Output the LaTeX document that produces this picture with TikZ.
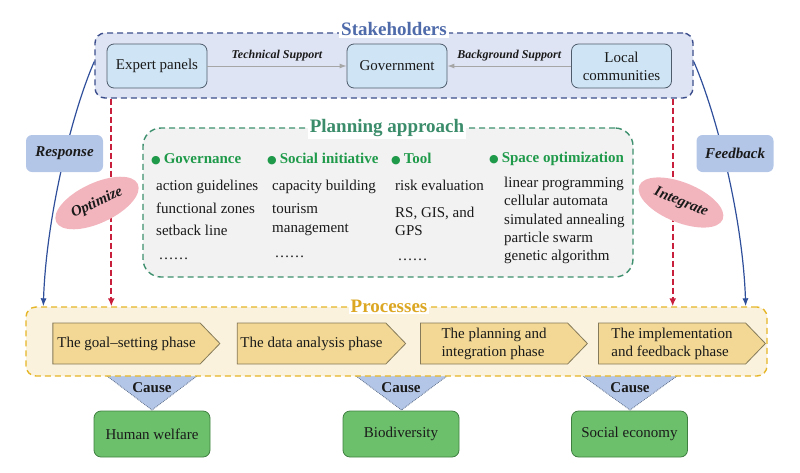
\documentclass[tikz,border=0pt]{standalone}
\usepackage{fontspec}
\setmainfont{Liberation Serif}
\newfontfamily\dotfont{DejaVu Sans}
\usetikzlibrary{arrows.meta, shapes.symbols, shapes.geometric, positioning}

\definecolor{ink}{HTML}{1A1A1A}
\definecolor{stakefill}{HTML}{DFE4F4}
\definecolor{stakeedge}{HTML}{3C4F8C}
\definecolor{staketitle}{HTML}{4F6BAA}
\definecolor{cellfill}{HTML}{CFE5F5}
\definecolor{celledge}{HTML}{4D5B6B}
\definecolor{reactfill}{HTML}{B4C6E7}
\definecolor{curveblue}{HTML}{2F4F9B}
\definecolor{optred}{HTML}{C8203C}
\definecolor{ovalfill}{HTML}{F2B5BE}
\definecolor{planfill}{HTML}{F2F2F2}
\definecolor{planedge}{HTML}{3D8F6E}
\definecolor{plantitle}{HTML}{3A8C6A}
\definecolor{headgreen}{HTML}{1F9A4A}
\definecolor{procfill}{HTML}{FBF2DD}
\definecolor{procedge}{HTML}{E5B627}
\definecolor{proctitle}{HTML}{DCA723}
\definecolor{phasefill}{HTML}{F2D894}
\definecolor{phaseedge}{HTML}{857A5A}
\definecolor{causeedge}{HTML}{5A6B86}
\definecolor{resultfill}{HTML}{6CC06C}
\definecolor{resultedge}{HTML}{3F7F40}

\newcommand{\headdot}{{\dotfont\fontsize{11}{11}\selectfont ●}\hspace{3pt}}

\tikzset{
  group box/.style={
    rounded corners=10pt,
    draw,
    line width=1.4pt,
    dash pattern=on 6pt off 4pt,
  },
  box title/.style={
    fill=white,
    inner sep=2pt,
    font=\fontsize{19}{21}\selectfont\bfseries,
  },
  stake node/.style={
    rounded corners=7pt,
    draw=celledge,
    fill=cellfill,
    line width=0.8pt,
    minimum width=100pt,
    minimum height=44pt,
    align=center,
  },
  support label/.style={
    above=1pt,
    midway,
    font=\fontsize{12}{14}\selectfont\bfseries\itshape,
  },
  react node/.style={
    rounded corners=6pt,
    fill=reactfill,
    minimum width=77pt,
    minimum height=37pt,
    font=\fontsize{15}{18}\selectfont\bfseries\itshape,
  },
  oval node/.style={
    ellipse,
    fill=ovalfill,
    minimum width=90pt,
    minimum height=40pt,
    inner sep=0pt,
    font=\fontsize{15}{18}\selectfont\bfseries\itshape,
  },
  head node/.style={
    anchor=west,
    inner sep=0pt,
    text=headgreen,
    font=\fontsize{15}{18}\selectfont\bfseries,
  },
  item node/.style={
    anchor=north west,
    inner sep=0pt,
    align=left,
  },
  phase node/.style={
    signal,
    signal to=east,
    signal pointer angle=92,
    draw=phaseedge,
    fill=phasefill,
    line width=0.8pt,
    minimum width=167pt,
    minimum height=41pt,
    align=left,
  },
  result node/.style={
    rounded corners=7pt,
    draw=resultedge,
    fill=resultfill,
    line width=0.8pt,
    minimum width=116pt,
    minimum height=46pt,
  },
  cause edge/.style={draw=causeedge, densely dotted, line width=0.8pt},
  cause label/.style={inner sep=0pt, font=\fontsize{15}{18}\selectfont\bfseries},
  support arrow/.style={draw=black!35, line width=1pt, -{Latex[length=7pt, width=5pt]}},
  loop arrow/.style={draw=curveblue, line width=1.2pt, -{Latex[length=8pt, width=6pt]}},
  push arrow/.style={draw=optred, line width=2pt, dash pattern=on 6pt off 3pt, -{Latex[length=8pt, width=7pt]}},
}

\begin{document}
\begin{tikzpicture}[x=1pt, y=-1pt, font=\fontsize{15}{18}\selectfont, text=ink]
  \useasboundingbox (0,0) rectangle (800,472);

  % cause wedges under the processes
  \fill[reactfill] (107,376) -- (197,376) -- (152,410) -- cycle;
  \fill[reactfill] (356,376) -- (447,376) -- (401.5,410) -- cycle;
  \fill[reactfill] (583,376) -- (677,376) -- (630,410) -- cycle;
  \draw[cause edge] (107,376) -- (152,410) -- (197,376);
  \draw[cause edge] (356,376) -- (401.5,410) -- (447,376);
  \draw[cause edge] (583,376) -- (630,410) -- (677,376);

  % stakeholders
  \node[group box, draw=stakeedge, fill=stakefill, minimum width=598pt, minimum height=65pt] (stake) at (394,65.5) {};
  \node[box title, text=staketitle] (staketitle) at (394,29) {Stakeholders};
  \node[stake node] (expert) at (157,66) {Expert panels};
  \node[stake node] (gov)    at (397,66) {Government};
  \node[stake node] (local)  at (621.5,66) {Local\\communities};

  \draw[support arrow] (expert) -- node[support label] (tech) {Technical Support} (gov);
  \draw[support arrow] (local)  -- node[support label] (back) {Background Support} (gov);

  % planning approach
  \node[group box, rounded corners=18pt, draw=planedge, fill=planfill, minimum width=490pt, minimum height=149pt] (plan) at (388,202.5) {};
  \node[box title, text=plantitle] (plantitle) at (387,128) {Planning approach};

  \node[head node] (govhead)   at (151,159) {\headdot Governance};
  \node[head node] (sochead)   at (267,159) {\headdot Social initiative};
  \node[head node] (toolhead)  at (391,159) {\headdot Tool};
  \node[head node] (spacehead) at (489,159) {\headdot Space optimization};

  \node[item node] (govitems)   at (156,180) {action guidelines\\[5pt]functional zones\\[4pt]setback line\\[6pt]\,……};
  \node[item node] (socitems)   at (272,180) {capacity building\\[5pt]tourism\\[1pt]management\\[7pt]\,……};
  \node[item node] (toolitems)  at (395,180) {risk evaluation\\[9pt]RS, GIS, and\\GPS\\[7pt]\,……};
  \node[item node] (spaceitems) at (504,177) {linear programming\\[0.3pt]cellular automata\\[0.3pt]simulated annealing\\[0.3pt]particle swarm\\[0.3pt]genetic algorithm};

  % processes
  \node[group box, draw=procedge, fill=procfill, minimum width=741pt, minimum height=69pt] (proc) at (396.5,341.5) {};
  \node[box title, text=proctitle] (proctitle) at (389,306) {Processes};

  \node[phase node] (goal)  at (126.5,343.5) {The goal--setting phase};
  \node[phase node] (data)  at (311.5,343.5) {The data analysis phase};
  \node[phase node] (integ) at (494,343.5) {The planning and\\integration phase};
  \node[phase node] (impl)  at (672,343.5) {The implementation\\and feedback phase};

  \node[cause label] (cause1) at (152,388) {Cause};
  \node[cause label] (cause2) at (401,388) {Cause};
  \node[cause label] (cause3) at (630,388) {Cause};

  \node[result node] (human) at (152,434)   {Human welfare};
  \node[result node] (bio)   at (401,434)   {Biodiversity};
  \node[result node] (econ)  at (629.5,434) {Social economy};

  % loops between the groups
  \coordinate (respstart) at ([yshift=4pt]stake.west);
  \coordinate (respend)   at ([xshift=18pt]proc.north west);
  \coordinate (feedstart) at ([yshift=4pt]stake.east);
  \coordinate (feedend)   at ([xshift=-22pt]proc.north east);
  \coordinate (optstart)  at ([xshift=17pt]stake.south west);
  \coordinate (intstart)  at ([xshift=-21pt]stake.south east);

  \draw[loop arrow] (respstart) .. controls +(-22,50) and +(3,-90) .. (respend);
  \draw[loop arrow] (feedstart) .. controls +(22,50) and +(-3,-90) .. (feedend);
  \draw[push arrow] (optstart) -- (optstart |- proc.north);
  \draw[push arrow] (intstart) -- (intstart |- proc.north);

  \node[react node] (resp) at (64.5,153.5) {Response};
  \node[react node] (feed) at (735,153.5)  {Feedback};
  \node[oval node, rotate=25]  (opt) at (97,203)    {Optimize};
  \node[oval node, rotate=-22] (int) at (681,202.5) {Integrate};
\end{tikzpicture}
\end{document}
